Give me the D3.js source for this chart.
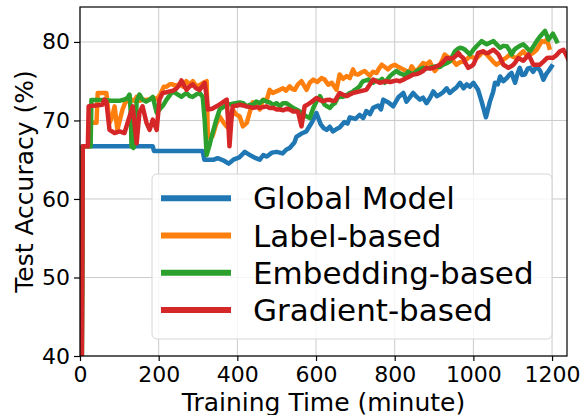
<!DOCTYPE html>
<html>
<head>
<meta charset="utf-8">
<script src="https://cdn.jsdelivr.net/npm/d3@7"></script>
<style>
  html, body { margin: 0; padding: 0; background: #fff; }
  svg { display: block; font-family: "DejaVu Sans", sans-serif; }
</style>
</head>
<body>
<div id="chart"></div>
<script>
// series: [minute, accuracy %]
const globalModel = [[2,10],[7,66.7],[185,66.7],[188,66.1],[312,66.1],[316,65.0],[340,65.0],[350,65.2],[365,64.9],[378,64.5],[390,65.0],[405,65.3],[419,66.0],[435,65.5],[447,65.2],[457,65.0],[466,65.6],[475,65.4],[488,65.9],[500,66.0],[515,65.8],[525,66.3],[533,66.5],[545,67.2],[550,67.9],[562,68.3],[575,68.6],[590,69.8],[601,70.95],[612,69.5],[620,69.0],[627,68.8],[635,69.2],[643,68.6],[652,68.9],[660,69.1],[672,69.8],[680,69.6],[686,70.4],[700,70.2],[711,70.7],[720,70.3],[728,71.2],[737,70.8],[745,71.6],[758,71.9],[765,71.4],[771,72.65],[784,72.3],[796,71.8],[810,73.0],[822,73.5],[830,72.4],[838,72.9],[847,73.5],[856,73.0],[864,72.65],[872,72.9],[881,72.2],[890,72.9],[898,73.7],[907,73.1],[915,73.3],[923,73.6],[932,74.1],[940,73.5],[949,73.9],[957,74.2],[966,74.8],[975,74.1],[983,74.6],[991,74.3],[1000,74.8],[1012,73.9],[1021,72.4],[1032,70.4],[1042,72.4],[1050,73.6],[1055,74.8],[1062,74.6],[1068,75.6],[1076,75.0],[1085,75.4],[1091,75.8],[1097,76.05],[1106,74.8],[1112,75.9],[1118,76.7],[1124,75.8],[1131,75.85],[1138,76.6],[1144,76.7],[1152,76.2],[1161,76.9],[1170,76.3],[1178,75.2],[1185,75.9],[1191,76.3],[1199,76.9]];

const labelBased = [[2,10],[7,66.7],[24,66.7],[26,69.7],[42,69.7],[45,73.5],[67,73.5],[75,69.7],[82,70.5],[88,71.8],[95,68.8],[102,70.2],[108,71.4],[118,72.65],[124,72.4],[131,72.65],[138,72.5],[144,73.0],[151,72.5],[159,72.65],[168,72.6],[177,72.7],[185,72.9],[195,72.7],[205,73.4],[213,74.3],[220,74.3],[228,74.6],[235,74.6],[244,74.4],[253,74.6],[262,74.3],[270,75.0],[278,74.6],[287,75.0],[295,74.4],[304,74.5],[313,74.8],[322,75.0],[325,67.8],[331,67.9],[337,68.0],[346,69.5],[355,70.5],[364,69.8],[373,69.2],[380,70.3],[388,71.4],[396,70.8],[406,70.5],[414,69.25],[424,69.7],[431,70.95],[439,72.3],[448,72.2],[457,71.4],[465,72.65],[475,72.65],[482,73.9],[490,73.5],[499,73.7],[508,73.9],[516,74.1],[524,73.8],[533,74.35],[540,74.0],[546,73.9],[554,74.6],[563,75.0],[570,74.4],[576,73.9],[584,74.8],[593,75.2],[603,74.9],[614,75.4],[622,75.2],[631,74.55],[640,74.8],[652,73.9],[660,75.85],[669,75.3],[678,75.65],[686,75.4],[694,76.5],[700,75.9],[707,75.85],[715,76.1],[724,76.3],[730,76.0],[737,75.7],[745,76.2],[754,76.05],[760,76.6],[767,77.1],[775,76.8],[783,76.5],[791,76.9],[800,77.1],[810,76.8],[822,76.5],[830,76.3],[836,75.9],[843,76.9],[850,76.4],[856,76.3],[864,76.8],[872,77.3],[880,77.1],[889,77.5],[895,76.9],[902,76.3],[909,76.7],[915,77.1],[922,77.8],[927,78.4],[934,78.1],[940,77.95],[948,77.6],[957,77.1],[965,77.4],[974,77.5],[983,77.8],[991,78.15],[1000,78.0],[1008,77.95],[1016,78.3],[1025,78.8],[1034,78.4],[1042,77.95],[1050,77.5],[1059,77.1],[1068,77.4],[1076,77.75],[1084,78.0],[1093,78.4],[1101,78.1],[1110,77.95],[1118,78.4],[1127,78.8],[1135,78.3],[1144,78.4],[1152,78.6],[1161,79.0],[1168,79.6],[1174,80.1],[1181,80.0],[1187,80.3],[1193,79.25]];

const embeddingBased = [[2,10],[7,66.7],[27,66.7],[29,72.6],[60,72.6],[80,72.5],[100,72.5],[108,72.6],[115,72.7],[121,72.9],[126,73.3],[129,71.0],[131,66.7],[136,66.5],[140,67.5],[144,72.5],[151,73.3],[159,72.65],[168,72.4],[177,72.65],[185,73.0],[195,71.0],[202,71.4],[211,71.9],[220,72.65],[228,73.2],[235,73.7],[246,73.4],[258,73.0],[265,73.3],[271,73.5],[279,73.1],[286,73.0],[295,73.3],[304,73.5],[312,73.0],[317,70.0],[322,65.6],[330,67.0],[337,68.4],[346,70.0],[355,71.4],[364,71.7],[373,72.0],[385,72.1],[395,72.2],[406,72.3],[415,72.2],[424,71.8],[432,72.0],[440,72.0],[448,72.4],[457,72.2],[466,72.6],[474,72.4],[482,72.3],[491,72.0],[500,72.2],[508,71.8],[516,72.2],[525,72.2],[533,71.9],[542,71.6],[550,71.4],[559,71.15],[567,70.8],[576,70.5],[584,70.3],[593,71.6],[601,72.4],[610,73.1],[616,72.5],[622,72.0],[628,71.8],[635,71.6],[642,72.0],[648,72.2],[654,72.8],[660,73.1],[667,73.0],[673,73.1],[680,73.3],[686,73.5],[692,73.6],[699,73.9],[705,74.1],[711,74.35],[716,74.8],[720,75.0],[727,75.1],[733,75.2],[739,75.0],[745,74.8],[752,75.1],[762,75.0],[768,75.3],[775,74.8],[781,75.2],[788,75.65],[796,76.0],[805,76.3],[813,76.0],[822,75.85],[826,75.65],[834,76.2],[839,76.05],[848,75.9],[856,76.3],[864,76.5],[872,76.7],[880,76.6],[889,76.7],[898,76.8],[907,76.9],[915,76.8],[923,77.1],[932,77.3],[940,77.5],[947,78.2],[953,78.8],[960,79.1],[966,79.25],[972,79.2],[979,79.0],[985,78.7],[991,78.4],[1000,79.0],[1008,79.45],[1015,79.8],[1021,80.1],[1027,79.9],[1034,79.7],[1042,79.9],[1051,80.1],[1059,79.7],[1068,79.25],[1076,79.5],[1085,79.45],[1091,79.0],[1097,78.4],[1104,79.0],[1110,79.25],[1118,79.5],[1127,79.7],[1135,79.3],[1144,78.8],[1152,79.4],[1161,80.1],[1168,80.6],[1174,80.95],[1182,81.4],[1187,80.8],[1191,80.3],[1197,80.7],[1202,81.05],[1207,80.6],[1212,80.1]];

const gradientBased = [[2,10],[7,66.7],[20,66.7],[22,71.8],[57,72.0],[62,72.65],[67,72.4],[75,68.8],[88,68.4],[101,68.6],[113,68.4],[126,70.5],[134,71.8],[140,69.0],[144,67.1],[151,71.0],[159,71.8],[169,69.7],[177,68.8],[185,70.1],[195,68.8],[202,72.65],[210,73.5],[220,73.6],[228,73.7],[237,73.8],[246,74.1],[252,74.5],[258,75.1],[264,74.5],[271,73.9],[278,74.3],[286,74.6],[295,74.1],[304,73.9],[310,74.3],[317,74.8],[322,73.0],[325,71.4],[336,71.5],[347,71.8],[360,72.2],[373,72.65],[377,69.5],[380,66.7],[384,69.5],[388,71.8],[400,71.9],[406,72.0],[415,71.9],[423,71.8],[432,71.7],[440,71.6],[449,71.7],[457,71.6],[466,71.7],[474,71.8],[482,71.6],[491,71.6],[500,71.4],[508,71.4],[517,71.3],[525,71.5],[533,71.4],[542,71.15],[554,71.15],[559,70.1],[563,69.25],[567,70.5],[571,71.8],[578,72.0],[584,72.2],[592,72.5],[601,72.85],[610,72.6],[618,72.45],[626,72.6],[635,72.65],[641,72.5],[648,72.5],[654,73.0],[660,73.5],[668,73.3],[678,73.1],[686,73.3],[694,73.5],[702,73.6],[711,73.7],[719,73.8],[728,73.9],[736,74.5],[745,75.2],[753,75.0],[762,74.8],[770,74.9],[779,75.0],[788,74.9],[796,75.0],[805,75.1],[813,75.0],[822,75.2],[830,75.4],[838,75.6],[847,75.85],[856,75.9],[864,76.05],[872,76.3],[881,76.7],[890,76.6],[898,76.7],[907,76.9],[915,77.1],[924,77.5],[932,77.95],[940,77.9],[949,77.95],[955,78.2],[962,78.6],[968,78.2],[974,77.95],[981,77.2],[987,76.7],[994,76.9],[1000,77.1],[1006,77.8],[1012,78.6],[1018,78.7],[1025,78.8],[1031,78.6],[1038,78.6],[1044,78.8],[1051,79.0],[1058,78.7],[1064,78.4],[1070,77.8],[1076,77.1],[1083,76.9],[1089,76.7],[1096,76.9],[1102,77.1],[1108,77.5],[1114,77.95],[1120,77.8],[1127,77.6],[1134,78.0],[1140,78.4],[1146,77.8],[1152,77.1],[1160,77.1],[1169,77.1],[1178,77.5],[1187,77.95],[1195,78.0],[1202,77.95],[1211,78.3],[1220,78.8],[1229,79.0],[1238,78.15],[1245,77.3]];

const seriesNames = ["Global Model", "Label-based", "Embedding-based", "Gradient-based"];
const seriesColors = ["#1f77b4", "#ff7f0e", "#2ca02c", "#d62728"];
const xTicks = [0, 200, 400, 600, 800, 1000, 1200];
const yTicks = [40, 50, 60, 70, 80];

const width = 584, height = 415;
const margin = {top: 7, right: 17, bottom: 59, left: 80};
const innerW = width - margin.left - margin.right;
const innerH = height - margin.top - margin.bottom;

const svg = d3.select("#chart").append("svg")
  .attr("width", width)
  .attr("height", height);

const g = svg.append("g")
  .attr("transform", "translate(" + margin.left + "," + margin.top + ")");

const x = d3.scaleLinear().domain([0, 1238]).range([0, innerW]);
const y = d3.scaleLinear().domain([40, 84.45]).range([innerH, 0]);

// grid
g.append("g").selectAll("line").data(xTicks).enter().append("line")
  .attr("x1", d => x(d)).attr("x2", d => x(d))
  .attr("y1", 0).attr("y2", innerH)
  .attr("stroke", "#cbcbcb").attr("stroke-width", 1);
g.append("g").selectAll("line").data(yTicks).enter().append("line")
  .attr("x1", 0).attr("x2", innerW)
  .attr("y1", d => y(d)).attr("y2", d => y(d))
  .attr("stroke", "#cbcbcb").attr("stroke-width", 1);

// lines
g.append("clipPath").attr("id", "clip")
  .append("rect").attr("width", innerW).attr("height", innerH);

const line = d3.line().x(d => x(d[0])).y(d => y(d[1]));
const allSeries = [globalModel, labelBased, embeddingBased, gradientBased];

g.append("g").attr("clip-path", "url(#clip)")
  .selectAll("path").data(allSeries).enter().append("path")
  .attr("d", line)
  .attr("fill", "none")
  .attr("stroke", (d, i) => seriesColors[i])
  .attr("stroke-width", 4.5)
  .attr("stroke-linejoin", "round")
  .attr("stroke-linecap", "square");

// axes
const xAxis = g.append("g")
  .attr("transform", "translate(0," + innerH + ")")
  .call(d3.axisBottom(x).tickValues(xTicks).tickSize(5).tickPadding(5).tickFormat(d3.format("d")));
const yAxis = g.append("g")
  .call(d3.axisLeft(y).tickValues(yTicks).tickSize(6).tickPadding(4));

[xAxis, yAxis].forEach(a => {
  a.select(".domain").remove();
  a.selectAll("text").attr("font-size", 22).attr("font-family", "DejaVu Sans").attr("fill", "#000");
  a.selectAll("line").attr("stroke", "#000").attr("stroke-width", 1.2);
});

// frame
g.append("rect")
  .attr("width", innerW).attr("height", innerH)
  .attr("fill", "none").attr("stroke", "#000").attr("stroke-width", 1.2);

// axis labels
svg.append("text")
  .attr("x", margin.left + innerW / 2).attr("y", 411)
  .attr("text-anchor", "middle").attr("font-size", 25)
  .text("Training Time (minute)");
svg.append("text")
  .attr("transform", "translate(33," + (margin.top + innerH / 2) + ") rotate(-90)")
  .attr("text-anchor", "middle").attr("font-size", 25)
  .text("Test Accuracy (%)");

// legend
const legend = svg.append("g");
legend.append("rect")
  .attr("x", 152).attr("y", 174).attr("width", 400).attr("height", 165)
  .attr("rx", 5).attr("ry", 5)
  .attr("fill", "#fff").attr("fill-opacity", 0.8)
  .attr("stroke", "#d6d6d6").attr("stroke-width", 1);

const items = legend.selectAll("g.item").data(seriesNames).enter().append("g")
  .attr("class", "item")
  .attr("transform", (d, i) => "translate(0," + (198.3 + i * 37.2) + ")");
items.append("line")
  .attr("x1", 161).attr("x2", 231)
  .attr("stroke", (d, i) => seriesColors[i])
  .attr("stroke-width", 6);
items.append("text")
  .attr("x", 253).attr("y", 11)
  .attr("font-size", 31)
  .text(d => d);
</script>
</body>
</html>
